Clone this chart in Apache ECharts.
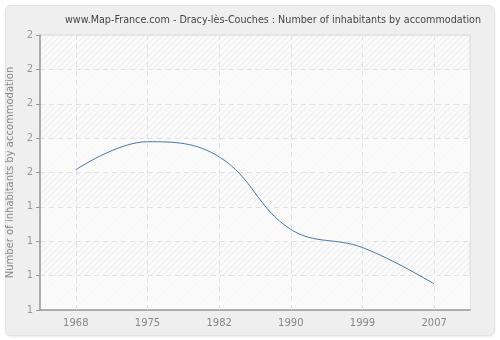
<!DOCTYPE html>
<html>
<head>
<meta charset="utf-8">
<script src="https://cdn.jsdelivr.net/npm/echarts@6/dist/echarts.min.js"></script>
<style>
  html, body { margin: 0; padding: 0; background: #ffffff; }
  #frame {
    position: absolute; left: 5px; top: 5px; width: 488px; height: 329px;
    background: #efefef; border: 1px solid #e2e2e2; border-radius: 6px;
    box-shadow: 0 1px 2px rgba(0,0,0,0.08);
  }
  #chart { position: absolute; left: 0; top: 0; width: 500px; height: 340px; }
</style>
</head>
<body>
<div id="frame"></div>
<div id="chart"></div>
<script>
// Census years and average number of inhabitants per accommodation
const years = ['1968', '1975', '1982', '1990', '1999', '2007'];
const inhabitants = [1.51, 1.612, 1.557, 1.293, 1.227, 1.095];

const chartTitle = 'www.Map-France.com - Dracy-lès-Couches : Number of inhabitants by accommodation';
const yAxisName = 'Number of inhabitants by accommodation';

// Diagonal hatch tile for the plot background
function hatchTile() {
  const c = document.createElement('canvas');
  c.width = 6; c.height = 6;
  const g = c.getContext('2d');
  g.fillStyle = '#fafafa';
  g.fillRect(0, 0, 6, 6);
  g.strokeStyle = '#ebebeb';
  g.lineWidth = 1;
  g.beginPath();
  g.moveTo(-1, 7); g.lineTo(7, -1);
  g.moveTo(-1, 1); g.lineTo(1, -1);
  g.moveTo(5, 7); g.lineTo(7, 5);
  g.stroke();
  return c;
}

const gridDash = { color: '#e2e2e2', width: 1, type: [5, 4] };

const chart = echarts.init(document.getElementById('chart'), null, { renderer: 'canvas' });
chart.setOption({
  backgroundColor: 'transparent',
  animation: false,
  title: {
    text: chartTitle,
    left: 268, top: 10, textAlign: 'center',
    textStyle: { fontFamily: 'DejaVu Sans', fontSize: 9.6, fontWeight: 'normal', color: '#444' }
  },
  grid: {
    left: 40, right: 30, top: 35, bottom: 30,
    containLabel: false,
    outerBoundsMode: 'none',
    show: true,
    backgroundColor: { image: hatchTile(), repeat: 'repeat' },
    borderColor: '#d8d8d8', borderWidth: 1
  },
  xAxis: {
    type: 'category',
    data: years,
    boundaryGap: true,
    axisLine: { lineStyle: { color: '#999', width: 1.5 } },
    axisTick: { alignWithLabel: true, length: 4, lineStyle: { color: '#999' } },
    axisLabel: { color: '#888', fontFamily: 'DejaVu Sans', fontSize: 10, margin: 8 },
    splitLine: { show: false }
  },
  yAxis: {
    type: 'value',
    min: 1, max: 2, interval: 0.125,
    name: yAxisName,
    nameLocation: 'middle',
    nameGap: 21,
    nameTextStyle: { color: '#888', fontFamily: 'DejaVu Sans', fontSize: 10 },
    axisLine: { show: true, lineStyle: { color: '#999', width: 1.5 } },
    axisTick: { show: true, length: 4, lineStyle: { color: '#999' } },
    axisLabel: {
      color: '#999', fontFamily: 'DejaVu Sans', fontSize: 10, margin: 7,
      formatter: v => String(Math.round(v))
    },
    splitLine: { show: true, lineStyle: gridDash },
    splitArea: { show: true, areaStyle: { color: ['rgba(250,250,250,0.85)', 'rgba(0,0,0,0)'] } }
  },
  series: [
    {
      // vertical dashed guides through each census year
      type: 'line',
      data: [],
      z: 1,
      markLine: {
        silent: true,
        symbol: 'none',
        label: { show: false },
        lineStyle: gridDash,
        data: years.map(y => ({ xAxis: y }))
      }
    },
    {
      type: 'line',
      data: inhabitants,
      z: 3,
      smooth: 0.4,
      symbol: 'none',
      lineStyle: { color: '#4a77a8', width: 1 }
    }
  ]
});
</script>
</body>
</html>
